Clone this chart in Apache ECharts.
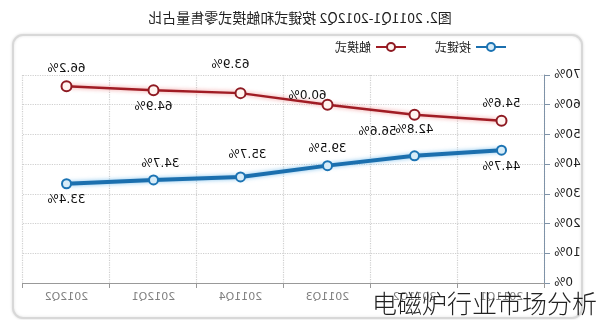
<!DOCTYPE html>
<html><head><meta charset="utf-8">
<script src="https://cdn.jsdelivr.net/npm/echarts@6/dist/echarts.min.js"></script>
<style>
html,body{margin:0;padding:0;background:#fff;}
#wrap{position:relative;width:600px;height:320px;overflow:hidden;}
#chart{position:absolute;left:0;top:0;width:600px;height:320px;transform:scaleX(-1);}
#wm{position:absolute;left:372px;top:284px;font-family:"Noto Sans CJK SC";font-size:25px;font-weight:300;color:#222;white-space:nowrap;letter-spacing:0px;}
</style></head>
<body><div id="wrap"><div id="chart"></div><div id="wm">电磁炉行业市场分析</div></div>
<script>
var titleText = '图2. 2011Q1-2012Q2 按键式和触摸式零售量占比';
var categories = ['2011Q1','2011Q2','2011Q3','2011Q4','2012Q1','2012Q2'];
var seriesNames = ['按键式','触摸式'];
var buttonShare = [44.7, 42.8, 39.5, 35.7, 34.7, 33.4];
var touchShare = [54.6, 56.6, 60.0, 63.9, 64.9, 66.2];
var yTicks = [0, 10, 20, 30, 40, 50, 60, 70];

var touchLabelPos = [
  {position:'top'},
  {position:'bottom', offset:[37,0]},
  {position:'top', offset:[20,8]},
  {position:'top', offset:[10,-11]},
  {position:'bottom'},
  {position:'top'}
];
var buttonLabelPos = [
  {position:'bottom'},
  {position:'top', offset:[0,-9]},
  {position:'top'},
  {position:'top', offset:[-7,-6]},
  {position:'top', offset:[-7,0]},
  {position:'bottom'}
];

var chart = echarts.init(document.getElementById('chart'), null, {renderer:'canvas'});
chart.setOption({
  animation:false,
  backgroundColor:'#fff',
  title:{text:titleText,left:'center',top:6,textStyle:{fontFamily:'Noto Sans CJK SC',fontSize:14,fontWeight:'normal',color:'#222'}},
  graphic:[{type:'rect',shape:{x:18,y:35,width:569,height:283,r:10},style:{fill:'#fff',stroke:'#d8d8d8',lineWidth:2,shadowColor:'rgba(0,0,0,0.12)',shadowBlur:3},z:-10}],
  legend:{left:88,top:36,itemWidth:30,itemHeight:10,itemGap:28,
    textStyle:{fontFamily:'Noto Sans CJK SC',fontSize:12,color:'#222'},
    data:seriesNames},
  grid:{left:55,right:23,top:75,bottom:37},
  xAxis:{type:'category',data:categories,boundaryGap:true,
    axisLine:{lineStyle:{color:'#999'}},
    axisTick:{show:true,length:5,lineStyle:{color:'#999'}},
    axisLabel:{color:'#808080',fontSize:11,fontFamily:'DejaVu Sans',margin:9},
    splitLine:{show:true,lineStyle:{color:'#cfcfcf',type:'dotted',width:1.2}}},
  yAxis:{type:'value',min:0,max:70,interval:10,position:'left',
    axisLine:{show:true,lineStyle:{color:'#7f93a8'}},
    axisTick:{show:true,length:5,lineStyle:{color:'#7f93a8'}},
    axisLabel:{color:'#222',fontSize:12,fontFamily:'DejaVu Sans',margin:9,
      formatter:function(v){return yTicks.indexOf(v)>=0? v+'%':'';}},
    splitLine:{show:true,lineStyle:{color:'#cfcfcf',type:'dotted',width:1.2}}},
  series:[
    {name:seriesNames[0],type:'line',
      data:buttonShare.map(function(v,i){return {value:v,label:buttonLabelPos[i]};}),
      symbol:'circle',symbolSize:9,
      itemStyle:{color:'#d7ecf8',borderColor:'#1b73b3',borderWidth:2},
      lineStyle:{color:'#1b6fae',width:4,shadowColor:'rgba(80,170,230,0.7)',shadowBlur:4},
      label:{show:true,color:'#111',fontSize:12,fontFamily:'DejaVu Sans',formatter:function(p){return p.value.toFixed(1)+'%';}}
    },
    {name:seriesNames[1],type:'line',
      data:touchShare.map(function(v,i){return {value:v,label:touchLabelPos[i]};}),
      symbol:'circle',symbolSize:10,
      itemStyle:{color:'#fff4f0',borderColor:'#8e1a22',borderWidth:2},
      lineStyle:{color:'#a01c24',width:2.5,shadowColor:'rgba(235,120,120,0.8)',shadowBlur:4},
      label:{show:true,color:'#111',fontSize:12,fontFamily:'DejaVu Sans',formatter:function(p){return p.value.toFixed(1)+'%';}}
    }
  ]
});
</script></body></html>
